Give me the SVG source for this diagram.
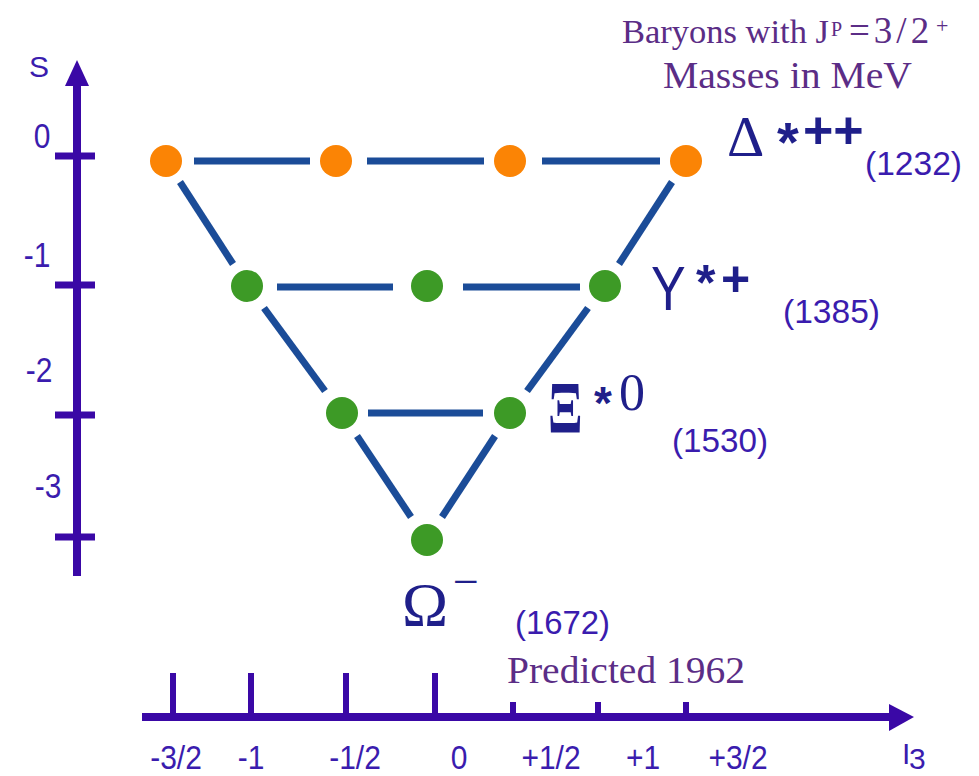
<svg xmlns="http://www.w3.org/2000/svg" width="979" height="776" viewBox="0 0 979 776">
<defs>
<style>
.axis{stroke:#3a08a6;stroke-width:8;fill:none}
.tick{stroke:#3a08a6;stroke-width:7}
.htick{stroke:#3a08a6;stroke-width:6}
.head{fill:#3a08a6}
.edge{stroke:#1b4c98;stroke-width:7;stroke-linecap:butt}
.orange{fill:#fb8405}
.green{fill:#3d9a26}
.lab{font-family:"Liberation Sans",Arial,sans-serif;font-size:30px;fill:#3a1cae}
.mass{font-family:"Liberation Sans",Arial,sans-serif;font-size:33px;fill:#3a1cae}
.note{font-family:"Liberation Serif","Times New Roman",serif;fill:#5b2d86}
.sym{font-family:"Liberation Serif","Times New Roman",serif;fill:#1f1f8a}
.sup{font-family:"Liberation Sans",Arial,sans-serif;font-weight:bold;fill:#1f1f8a}
</style>
</defs>
<rect width="979" height="776" fill="#ffffff"/>

<g id="s-axis">
<line class="axis" x1="77" y1="82" x2="77" y2="576"/>
<polygon class="head" points="77,60 65,86 89,86"/>
<line class="tick" x1="55" y1="156" x2="95" y2="156"/>
<line class="tick" x1="55" y1="285" x2="95" y2="285"/>
<line class="tick" x1="55" y1="415" x2="95" y2="415"/>
<line class="tick" x1="55" y1="537" x2="95" y2="537"/>
<text class="lab" x="39" y="77" text-anchor="middle">S</text>
<text class="lab" text-anchor="middle" transform="translate(42,148) scale(1,1.15)">0</text>
<text class="lab" text-anchor="middle" transform="translate(37,267) scale(1,1.15)">-1</text>
<text class="lab" text-anchor="middle" transform="translate(39,382) scale(1,1.15)">-2</text>
<text class="lab" text-anchor="middle" transform="translate(48,498) scale(1,1.15)">-3</text>
</g>

<g id="i3-axis">
<line class="axis" x1="142" y1="717" x2="892" y2="717" stroke-width="9"/>
<polygon class="head" points="889,704 914,717 889,731"/>
<line class="htick" x1="173" y1="673" x2="173" y2="717"/>
<line class="htick" x1="251" y1="673" x2="251" y2="717"/>
<line class="htick" x1="346" y1="673" x2="346" y2="717"/>
<line class="htick" x1="435" y1="673" x2="435" y2="717"/>
<line class="htick" x1="513" y1="702" x2="513" y2="717"/>
<line class="htick" x1="598" y1="702" x2="598" y2="717"/>
<line class="htick" x1="686" y1="702" x2="686" y2="717"/>
<text class="lab" text-anchor="middle" transform="translate(176,769) scale(1,1.1)">-3/2</text>
<text class="lab" text-anchor="middle" transform="translate(251,769) scale(1,1.1)">-1</text>
<text class="lab" text-anchor="middle" transform="translate(355,769) scale(1,1.1)">-1/2</text>
<text class="lab" text-anchor="middle" transform="translate(459,769) scale(1,1.1)">0</text>
<text class="lab" text-anchor="middle" transform="translate(551,769) scale(1,1.1)">+1/2</text>
<text class="lab" text-anchor="middle" transform="translate(643,769) scale(1,1.1)">+1</text>
<text class="lab" text-anchor="middle" transform="translate(738,769) scale(1,1.1)">+3/2</text>
<text class="lab" font-size="30"><tspan x="902" y="764">I</tspan><tspan x="909" y="769">3</tspan></text>
</g>

<g id="connectors">
<line class="edge" x1="194" y1="161" x2="310" y2="161"/>
<line class="edge" x1="367" y1="161" x2="484" y2="161"/>
<line class="edge" x1="542" y1="161" x2="660" y2="161"/>
<line class="edge" x1="277" y1="287" x2="393" y2="287"/>
<line class="edge" x1="463" y1="287" x2="580" y2="287"/>
<line class="edge" x1="368" y1="413" x2="483" y2="413"/>
<line class="edge" x1="180" y1="182" x2="233" y2="264"/>
<line class="edge" x1="672" y1="182" x2="619" y2="264"/>
<line class="edge" x1="264" y1="308" x2="325" y2="391"/>
<line class="edge" x1="588" y1="308" x2="527" y2="391"/>
<line class="edge" x1="357" y1="436" x2="411" y2="517"/>
<line class="edge" x1="495" y1="436" x2="442" y2="517"/>
</g>

<g id="delta-minus"><circle class="orange" cx="166" cy="161" r="16"/></g>
<g id="delta-zero"><circle class="orange" cx="336" cy="161" r="16"/></g>
<g id="delta-plus"><circle class="orange" cx="510" cy="161" r="16"/></g>
<g id="delta-plusplus"><circle class="orange" cx="686" cy="161" r="16"/>
<text class="sym" x="727" y="156" font-size="58">Δ</text>
<text class="sup" x="777" y="161" font-size="56">*</text>
<text class="sup" x="803" y="148" font-size="52">++</text>
<text class="mass" x="865" y="175" textLength="97" lengthAdjust="spacingAndGlyphs">(1232)</text>
</g>

<g id="sigma-minus"><circle class="green" cx="247" cy="286" r="16"/></g>
<g id="sigma-zero"><circle class="green" cx="427" cy="286" r="16"/></g>
<g id="sigma-plus"><circle class="green" cx="605" cy="286" r="16"/>
<text font-family="Liberation Sans, Arial, sans-serif" font-size="52" fill="#1f1f8a" transform="translate(651,310) scale(1,1.2)">Y</text>
<text class="sup" x="696" y="300" font-size="50">*</text>
<text class="sup" x="721" y="296" font-size="50">+</text>
<text class="mass" x="783" y="323" textLength="97" lengthAdjust="spacingAndGlyphs">(1385)</text>
</g>

<g id="xi-minus"><circle class="green" cx="342" cy="413" r="16"/></g>
<g id="xi-zero"><circle class="green" cx="510" cy="413" r="16"/>
<text class="sym" x="548" y="433" font-size="60" font-weight="bold" transform="translate(548,433) scale(0.85,1.25) translate(-548,-433)">Ξ</text>
<text class="sup" x="594" y="419" font-size="46">*</text>
<text class="sym" x="619" y="410" font-size="52">0</text>
<text class="mass" x="672" y="452" textLength="96" lengthAdjust="spacingAndGlyphs">(1530)</text>
</g>

<g id="omega-minus"><circle class="green" cx="427" cy="540" r="16"/>
<text class="sym" x="402" y="625" font-size="62">Ω</text>
<text class="sym" x="453" y="597" font-size="46">−</text>
<text class="mass" x="515" y="634" textLength="95" lengthAdjust="spacingAndGlyphs">(1672)</text>
</g>

<g id="title">
<text class="note" font-size="37"><tspan x="622" y="43" font-size="34.5">Baryons with J</tspan><tspan x="831" y="36" font-size="20">P</tspan><tspan x="849" y="43" letter-spacing="4">=3/2</tspan><tspan x="936" y="33" font-size="22">+</tspan></text>
<text class="note" x="663" y="88" font-size="38" textLength="249" lengthAdjust="spacingAndGlyphs">Masses in MeV</text>
</g>

<g id="prediction">
<text class="note" x="507" y="683" font-size="38" textLength="238" lengthAdjust="spacingAndGlyphs">Predicted 1962</text>
</g>
</svg>
